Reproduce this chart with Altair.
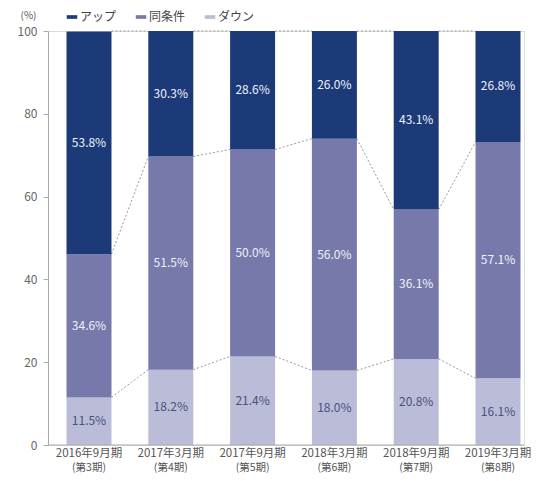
import altair as alt
import pandas as pd

periods = ["2016年9月期", "2017年3月期", "2017年9月期",
           "2018年3月期", "2018年9月期", "2019年3月期"]
terms = ["(第3期)", "(第4期)", "(第5期)", "(第6期)", "(第7期)", "(第8期)"]
categories = ["アップ", "同条件", "ダウン"]
up = [53.8, 30.3, 28.6, 26.0, 43.1, 26.8]
same = [34.6, 51.5, 50.0, 56.0, 36.1, 57.1]
down = [11.5, 18.2, 21.4, 18.0, 20.8, 16.1]
colors = ["#1d3a78", "#7679a9", "#bbbdd8"]

rows = []
for i, p in enumerate(periods):
    for order, (c, vals) in enumerate([("ダウン", down), ("同条件", same), ("アップ", up)]):
        rows.append({"period": p, "cat": c, "value": vals[i], "order": order,
                     "label": f"{vals[i]:.1f}%"})
df = pd.DataFrame(rows)

lines = []
for i in range(len(periods) - 1):
    levels = [
        (down[i], down[i + 1]),
        (down[i] + same[i], down[i + 1] + same[i + 1]),
        (100, 100),
    ]
    for a, b in levels:
        lines.append({"p1": periods[i], "p2": periods[i + 1], "ya": a, "yb": b})
ldf = pd.DataFrame(lines)

xl = pd.DataFrame({"period": periods, "term": terms})

FONT = "Noto Sans CJK JP"
W, H = 476, 414
half = 22.5
xscale = alt.Scale(domain=periods, range=[18.5, 472.5], paddingInner=0.45, paddingOuter=0)

xenc = alt.X("period:N", sort=periods, title=None, scale=xscale,
             axis=alt.Axis(labels=False, ticks=False, domain=False))
yscale = alt.Scale(domain=[0, 100], nice=False)

bars = alt.Chart(df).mark_bar().encode(
    x=xenc,
    y=alt.Y("value:Q", stack="zero", scale=yscale,
            axis=alt.Axis(values=[0, 20, 40, 60, 80, 100], grid=False,
                          title="(%)", titleAngle=0, titleX=-28, titleY=-16,
                          titleAlign="left", titleBaseline="middle",
                          titleFontSize=10, titleFontWeight="normal",
                          titleColor="#555555", titleFont=FONT,
                          labelFontSize=12, labelColor="#666666", labelFont=FONT,
                          tickSize=5, tickColor="#aaaaaa", domainColor="#aaaaaa",
                          labelPadding=6)),
    color=alt.Color("cat:N", sort=categories,
                    scale=alt.Scale(domain=categories, range=colors),
                    legend=alt.Legend(orient="none", legendX=18, legendY=-20,
                                      direction="horizontal", title=None,
                                      symbolType="M-1,-0.35H1V0.35H-1Z",
                                      symbolSize=110, symbolStrokeWidth=0,
                                      labelFontSize=12, labelFont=FONT,
                                      labelColor="#444444", labelOffset=2,
                                      columnPadding=18, padding=0)),
    order=alt.Order("order:Q"),
)

text = alt.Chart(df).transform_stack(
    stack="value", groupby=["period"], as_=["y0", "y1"],
    sort=[alt.SortField("order", order="ascending")]
).transform_calculate(
    mid="(datum.y0 + datum.y1) / 2"
).mark_text(fontSize=12, font=FONT).encode(
    x=alt.X("period:N", sort=periods, scale=xscale),
    y=alt.Y("mid:Q", scale=yscale),
    text="label:N",
    color=alt.condition(alt.datum.cat == "ダウン", alt.value("#4a5080"), alt.value("#eef2fb")),
)

conn = alt.Chart(ldf).mark_rule(color="#999999", strokeDash=[2, 2], strokeWidth=1,
                                xOffset=half, x2Offset=-half).encode(
    x=alt.X("p1:N", sort=periods, scale=xscale),
    x2="p2:N",
    y=alt.Y("ya:Q", scale=yscale),
    y2="yb:Q",
)

baseline = alt.Chart(pd.DataFrame({"v": [0]})).mark_rule(color="#aaaaaa", strokeWidth=1).encode(
    y=alt.Y("v:Q", scale=yscale),
    x=alt.value(0),
    x2=alt.value(W),
)

xlab1 = alt.Chart(xl).mark_text(fontSize=11.5, font=FONT, color="#555555",
                                baseline="middle", align="center").encode(
    x=alt.X("period:N", sort=periods, scale=xscale),
    y=alt.value(H + 9),
    text="period:N",
)
xlab2 = alt.Chart(xl).mark_text(fontSize=10.5, font=FONT, color="#555555",
                                baseline="middle", align="center").encode(
    x=alt.X("period:N", sort=periods, scale=xscale),
    y=alt.value(H + 22.5),
    text="term:N",
)

chart = alt.layer(conn, bars, text, baseline, xlab1, xlab2).properties(
    width=W, height=H,
    autosize=alt.AutoSizeParams(type="none"),
    padding={"left": 40, "top": 23, "right": 8, "bottom": 28},
).configure_view(stroke=None).configure(font=FONT)

chart.save("out.html", embed_options={"renderer": "svg", "actions": False})
